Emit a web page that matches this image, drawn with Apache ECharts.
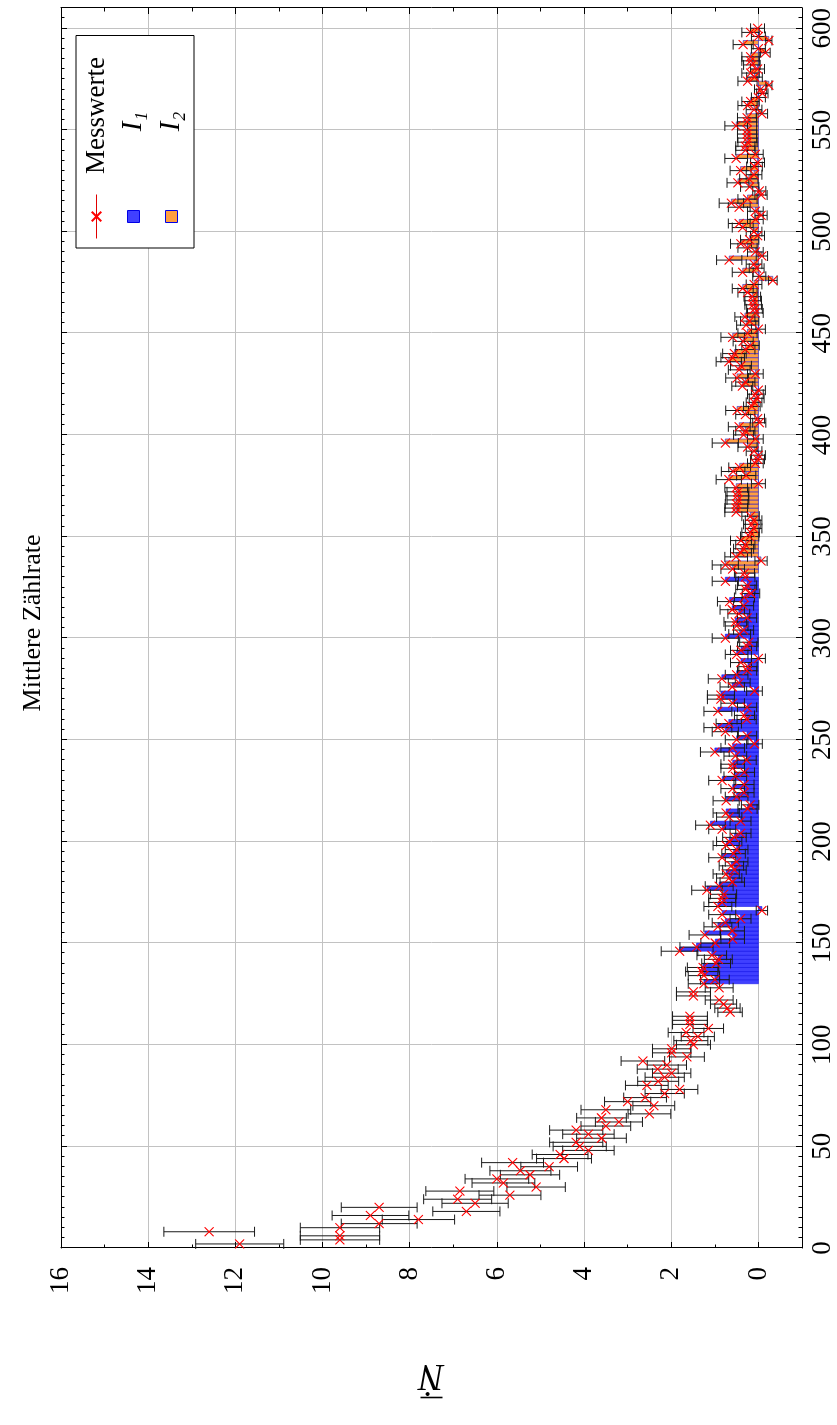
<!DOCTYPE html>
<html><head><meta charset="utf-8">
<script src="https://cdn.jsdelivr.net/npm/echarts@6/dist/echarts.min.js"></script>
<style>
html,body{margin:0;padding:0;background:#fff;overflow:hidden;}
#page{position:relative;width:837px;height:1425px;overflow:hidden;background:#fff;}
#chart{position:absolute;left:0;top:0;width:1425px;height:837px;transform-origin:0 0;transform:translateY(1425px) rotate(-90deg);}
</style></head><body><div id="page"><div id="chart"></div></div>
<script>
// ---- data (time in s, mean count rate) ----
const T_START = 2;
const T_STEP = 2;
const rate = [
 11.9, 9.6, 9.6, 12.6, 9.6, 8.7, 7.8, 8.9, 6.7, 8.7,
 6.5, 6.9, 5.7, 6.85, 5.1, 5.85, 6.0, 5.24, 5.46, 4.8,
 5.64, 4.46, 4.55, 3.9, 4.1, 4.18, 3.6, 3.9, 4.18, 3.5,
 3.2, 3.6, 2.5, 3.5, 2.4, 3.0, 2.6, 2.15, 1.81, 2.56,
 2.3, 2.15, 1.99, 2.31, 2.1, 2.65, 1.64, 1.99, 1.99, 1.49,
 1.55, 1.39, 1.66, 1.15, 1.57, 1.57, 1.57, 0.65, 0.71, 0.8,
 0.9, 1.49, 1.49, 0.9, 1.25, 1.0, 1.25, 1.3, 1.27, 0.97,
 0.92, 1.07, 1.81, 1.42, 0.99, 0.59, 1.23, 0.6, 0.93, 0.76,
 0.41, 0.83, -0.08, 0.93, 0.83, 0.83, 0.8, 1.18, 0.9, 0.6,
 0.67, 0.74, 0.55, 0.62, 0.5, 0.83, 0.57, 0.5, 0.74, 0.67,
 0.55, 0.41, 0.83, 1.1, 0.41, 0.67, 0.74, 0.25, 0.19, 0.74,
 0.5, 0.33, 0.59, 0.33, 0.83, 0.53, 0.32, 0.59, 0.59, 0.27,
 0.53, 1.0, 0.59, 0.09, 0.5, 0.26, 0.76, 0.93, 0.68, 0.27,
 0.32, 0.93, 0.26, 0.59, 0.86, 0.86, 0.09, 0.6, 0.44, 0.84,
 0.5, 0.26, 0.24, 0.4, 0.0, 0.5, 0.4, 0.26, 0.22, 0.76,
 0.43, 0.34, 0.5, 0.53, 0.26, 0.45, 0.6, 0.34, 0.66, 0.32,
 0.17, 0.3, 0.26, 0.76, 0.3, 0.32, 0.59, 0.76, -0.06, 0.51,
 0.4, 0.34, 0.3, 0.4, 0.2, 0.18, 0.11, 0.15, 0.11, 0.18,
 0.51, 0.51, 0.5, 0.47, 0.49, 0.47, 0.51, 0.0, 0.68, 0.28,
 0.58, 0.43, 0.07, 0.02, 0.0, 0.1, 0.25, 0.76, 0.07, 0.34,
 0.3, 0.44, -0.02, 0.02, 0.3, 0.49, 0.15, 0.1, 0.04, 0.07,
 0.0, 0.37, 0.3, 0.49, 0.07, 0.44, 0.4, 0.68, 0.59, 0.55,
 0.3, 0.18, 0.35, 0.59, 0.25, 0.0, 0.28, 0.2, 0.31, 0.07,
 0.09, 0.12, 0.12, 0.14, 0.25, 0.36, 0.1, -0.33, -0.02, 0.36,
 0.04, 0.1, 0.67, -0.08, 0.07, 0.25, 0.4, 0.2, 0.02, 0.1,
 0.36, 0.44, 0.07, -0.06, 0.07, 0.44, 0.62, 0.25, -0.06, -0.02,
 0.2, 0.47, 0.22, 0.1, 0.41, 0.09, 0.02, 0.51, 0.07, 0.3,
 0.3, 0.25, 0.26, 0.26, 0.26, 0.51, 0.26, 0.26, -0.08, 0.1,
 0.25, 0.18, 0.0, -0.09, -0.05, -0.24, 0.25, 0.09, 0.18, 0.02,
 0.15, 0.18, 0.18, -0.16, 0.0, 0.35, -0.24, 0.0, 0.18, 0.02
];
const rateErr = [
 1.01, 0.91, 0.91, 1.04, 0.91, 0.87, 0.83, 0.88, 0.77, 0.87,
 0.76, 0.78, 0.71, 0.78, 0.67, 0.72, 0.73, 0.68, 0.70, 0.65,
 0.71, 0.63, 0.64, 0.59, 0.61, 0.61, 0.57, 0.59, 0.61, 0.57,
 0.54, 0.57, 0.49, 0.57, 0.48, 0.53, 0.49, 0.45, 0.42, 0.49,
 0.47, 0.45, 0.44, 0.47, 0.45, 0.50, 0.40, 0.44, 0.44, 0.39,
 0.39, 0.38, 0.41, 0.35, 0.40, 0.40, 0.40, 0.28, 0.29, 0.30,
 0.32, 0.39, 0.39, 0.32, 0.36, 0.33, 0.36, 0.37, 0.36, 0.33,
 0.32, 0.34, 0.42, 0.38, 0.33, 0.27, 0.36, 0.28, 0.32, 0.30,
 0.24, 0.31, 0.13, 0.32, 0.31, 0.31, 0.30, 0.35, 0.32, 0.28,
 0.29, 0.30, 0.27, 0.28, 0.26, 0.31, 0.27, 0.26, 0.30, 0.29,
 0.27, 0.24, 0.31, 0.34, 0.24, 0.29, 0.30, 0.22, 0.20, 0.30,
 0.26, 0.23, 0.27, 0.23, 0.31, 0.26, 0.23, 0.27, 0.27, 0.22,
 0.26, 0.33, 0.27, 0.18, 0.26, 0.22, 0.30, 0.32, 0.29, 0.22,
 0.23, 0.32, 0.22, 0.27, 0.31, 0.31, 0.18, 0.28, 0.25, 0.31,
 0.26, 0.22, 0.21, 0.24, 0.16, 0.26, 0.24, 0.22, 0.21, 0.30,
 0.25, 0.23, 0.26, 0.26, 0.22, 0.25, 0.28, 0.23, 0.28, 0.23,
 0.20, 0.22, 0.22, 0.30, 0.22, 0.23, 0.27, 0.30, 0.14, 0.26,
 0.24, 0.23, 0.22, 0.24, 0.21, 0.20, 0.19, 0.19, 0.19, 0.20,
 0.26, 0.26, 0.26, 0.25, 0.26, 0.25, 0.26, 0.16, 0.29, 0.22,
 0.27, 0.25, 0.18, 0.16, 0.16, 0.18, 0.22, 0.30, 0.18, 0.23,
 0.22, 0.25, 0.15, 0.16, 0.22, 0.26, 0.19, 0.18, 0.17, 0.18,
 0.16, 0.24, 0.22, 0.26, 0.18, 0.25, 0.24, 0.29, 0.27, 0.27,
 0.22, 0.20, 0.23, 0.27, 0.22, 0.16, 0.22, 0.21, 0.23, 0.18,
 0.18, 0.19, 0.19, 0.19, 0.22, 0.24, 0.18, 0.10, 0.15, 0.24,
 0.17, 0.18, 0.29, 0.13, 0.18, 0.22, 0.24, 0.21, 0.16, 0.18,
 0.24, 0.25, 0.18, 0.14, 0.18, 0.25, 0.28, 0.22, 0.14, 0.15,
 0.21, 0.25, 0.21, 0.18, 0.24, 0.18, 0.16, 0.26, 0.18, 0.22,
 0.22, 0.22, 0.22, 0.22, 0.22, 0.26, 0.22, 0.22, 0.13, 0.18,
 0.22, 0.20, 0.16, 0.13, 0.14, 0.07, 0.22, 0.18, 0.20, 0.16,
 0.19, 0.20, 0.20, 0.11, 0.16, 0.23, 0.07, 0.16, 0.20, 0.16
];
const I1_RANGE = [130, 330];
const I2_RANGE = [332, 600];
const timeTicks = [0, 50, 100, 150, 200, 250, 300, 350, 400, 450, 500, 550, 600];
const rateTicks = [0, 2, 4, 6, 8, 10, 12, 14, 16];
const TITLE = 'Mittlere Zählrate';
const SERIES_NAMES = ['Messwerte', 'I₁', 'I₂'];

// ---- derived ----
const times = rate.map((_, i) => T_START + i * T_STEP);
const points = rate.map((v, i) => [times[i], v, rateErr[i]]);
const i1Data = points.filter(p => p[0] >= I1_RANGE[0] && p[0] < I1_RANGE[1]);
const i2Data = points.filter(p => p[0] >= I2_RANGE[0] && p[0] < I2_RANGE[1]);

const FONT = '"Liberation Serif", "DejaVu Serif", serif';
const BLUE_FILL = 'rgb(64,64,255)';
const ORANGE_FILL = 'rgb(255,159,64)';
const EDGE = 'rgb(0,0,230)';
const X_SYMBOL = 'path://M0,0L10,10M10,0L0,10';
const SQUARE = 'path://M0,0L10,0L10,10L0,10Z';
const T_MIN = 0, T_MAX = 610, R_MIN = -1, R_MAX = 16;
const GRID = { left: 177, right: 8, top: 61, bottom: 35 };

function barRenderer(fill) {
  return function (params, api) {
    const t = api.value(0), v = api.value(1);
    const a = api.coord([t, 0]);
    const b = api.coord([t + T_STEP, v]);
    return {
      type: 'rect',
      shape: { x: Math.min(a[0], b[0]), y: Math.min(a[1], b[1]), width: Math.abs(b[0] - a[0]), height: Math.abs(b[1] - a[1]) },
      style: { fill: fill, stroke: EDGE, lineWidth: 0.5 }
    };
  };
}
function errRenderer(params, api) {
  const t = api.value(0), v = api.value(1), e = api.value(2);
  const lo = api.coord([t, v - e]);
  const hi = api.coord([t, v + e]);
  const c = 5;
  const st = { stroke: '#1a1a1a', lineWidth: 1 };
  return {
    type: 'group',
    children: [
      { type: 'line', shape: { x1: lo[0], y1: lo[1], x2: hi[0], y2: hi[1] }, style: st },
      { type: 'line', shape: { x1: lo[0] - c, y1: lo[1], x2: lo[0] + c, y2: lo[1] }, style: st },
      { type: 'line', shape: { x1: hi[0] - c, y1: hi[1], x2: hi[0] + c, y2: hi[1] }, style: st }
    ]
  };
}

function axisBase(extra) {
  return Object.assign({
    type: 'value',
    axisLine: { show: true, onZero: false, lineStyle: { color: '#000', width: 1 } },
    axisLabel: { show: false },
    splitLine: { show: false }
  }, extra);
}
const tickStyle = { color: '#000', width: 1 };
const timeMinor = [];
for (let v = T_MIN; v <= T_MAX; v += 5) timeMinor.push(v);
const rateMinor = [];
for (let v = R_MIN; v <= R_MAX; v += 1) rateMinor.push(v);

const labelStyle = { color: '#000', fontFamily: FONT, fontSize: 27 };

const option = {
  animation: false,
  backgroundColor: '#fff',
  title: {
    text: TITLE, left: 797, top: 15, textAlign: 'center',
    textStyle: { fontFamily: FONT, fontSize: 26, fontWeight: 'normal', color: '#000' }
  },
  grid: [Object.assign({}, GRID), Object.assign({}, GRID)],
  xAxis: [
    axisBase({ gridIndex: 0, position: 'bottom', min: T_MIN, max: T_MAX,
      axisTick: { show: true, inside: true, length: 6, customValues: timeTicks, lineStyle: tickStyle },
      axisLabel: Object.assign({ show: true, customValues: timeTicks, margin: 7 }, labelStyle),
      splitLine: { show: true, lineStyle: { color: '#c2c2c2', width: 1 } } }),
    axisBase({ gridIndex: 0, position: 'top', min: T_MIN, max: T_MAX,
      axisTick: { show: true, inside: true, length: 6, customValues: timeTicks, lineStyle: tickStyle } }),
    axisBase({ gridIndex: 1, position: 'bottom', min: T_MIN, max: T_MAX,
      axisLine: { show: false, onZero: false },
      axisTick: { show: true, inside: true, length: 3.5, customValues: timeMinor, lineStyle: tickStyle } }),
    axisBase({ gridIndex: 1, position: 'top', min: T_MIN, max: T_MAX,
      axisLine: { show: false, onZero: false },
      axisTick: { show: true, inside: true, length: 3.5, customValues: timeMinor, lineStyle: tickStyle } })
  ],
  yAxis: [
    axisBase({ gridIndex: 0, position: 'left', min: R_MIN, max: R_MAX,
      axisTick: { show: true, inside: true, length: 6, customValues: rateTicks, lineStyle: tickStyle },
      axisLabel: Object.assign({ show: true, customValues: rateTicks, margin: 19 }, labelStyle),
      splitLine: { show: true, lineStyle: { color: '#c2c2c2', width: 1 } },
      name: '{bar|}\n{n|Ṅ}', nameLocation: 'middle', nameGap: 109, nameRotate: 90,
      nameTextStyle: { color: '#000', rich: {
        bar: { width: 22, height: 1.6, backgroundColor: '#000', align: 'center', lineHeight: 9 },
        n: { fontFamily: FONT, fontSize: 38, fontStyle: 'italic', color: '#000', align: 'center', lineHeight: 36 }
      } } }),
    axisBase({ gridIndex: 0, position: 'right', min: R_MIN, max: R_MAX,
      axisTick: { show: true, inside: true, length: 6, customValues: rateTicks, lineStyle: tickStyle } }),
    axisBase({ gridIndex: 1, position: 'left', min: R_MIN, max: R_MAX,
      axisLine: { show: false, onZero: false },
      axisTick: { show: true, inside: true, length: 3.5, customValues: rateMinor, lineStyle: tickStyle } }),
    axisBase({ gridIndex: 1, position: 'right', min: R_MIN, max: R_MAX,
      axisLine: { show: false, onZero: false },
      axisTick: { show: true, inside: true, length: 3.5, customValues: rateMinor, lineStyle: tickStyle } })
  ],
  legend: {
    orient: 'vertical', left: 1177, top: 76,
    padding: [7, 6, 8, 9], itemGap: 9, itemWidth: 44, itemHeight: 12,
    backgroundColor: '#fff', borderColor: '#000', borderWidth: 1, borderRadius: 0,
    selectedMode: false,
    formatter: n => n === SERIES_NAMES[0] ? '{c|' + n + '}' : '{ci|' + n + '}',
    textStyle: { color: '#000', fontFamily: FONT, fontSize: 27, rich: {
      c: { width: 148, align: 'center', fontFamily: FONT, fontSize: 27, lineHeight: 27, color: '#000' },
      ci: { width: 136, align: 'center', fontFamily: FONT, fontSize: 29, lineHeight: 27, fontStyle: 'italic', color: '#000' }
    } },
    data: [
      { name: SERIES_NAMES[0], lineStyle: { opacity: 1, width: 1, color: '#e00000' } },
      { name: SERIES_NAMES[1], icon: SQUARE, itemStyle: { color: BLUE_FILL, borderColor: EDGE, borderWidth: 1 } },
      { name: SERIES_NAMES[2], icon: SQUARE, itemStyle: { color: ORANGE_FILL, borderColor: EDGE, borderWidth: 1 } }
    ]
  },
  series: [
    { name: SERIES_NAMES[1], type: 'custom', xAxisIndex: 0, yAxisIndex: 0, data: i1Data,
      encode: { x: 0, y: 1 }, renderItem: barRenderer(BLUE_FILL), z: 2, silent: true,
      itemStyle: { color: BLUE_FILL, borderColor: EDGE, borderWidth: 1 } },
    { name: SERIES_NAMES[2], type: 'custom', xAxisIndex: 0, yAxisIndex: 0, data: i2Data,
      encode: { x: 0, y: 1 }, renderItem: barRenderer(ORANGE_FILL), z: 2, silent: true,
      itemStyle: { color: ORANGE_FILL, borderColor: EDGE, borderWidth: 1 } },
    { name: 'Fehler', type: 'custom', xAxisIndex: 0, yAxisIndex: 0, data: points,
      encode: { x: 0, y: 1 }, renderItem: errRenderer, z: 3, silent: true },
    { name: SERIES_NAMES[0], type: 'line', xAxisIndex: 0, yAxisIndex: 0,
      data: points.map(p => [p[0], p[1]]),
      symbol: X_SYMBOL, symbolSize: 9, showSymbol: true, showAllSymbol: true,
      lineStyle: { opacity: 0 },
      itemStyle: { color: '#ff0000', borderColor: '#ff0000', borderWidth: 1.1 },
      z: 4, silent: true }
  ]
};
const chart = echarts.init(document.getElementById('chart'), null, { renderer: 'canvas' });
chart.setOption(option);
</script>
</body></html>
